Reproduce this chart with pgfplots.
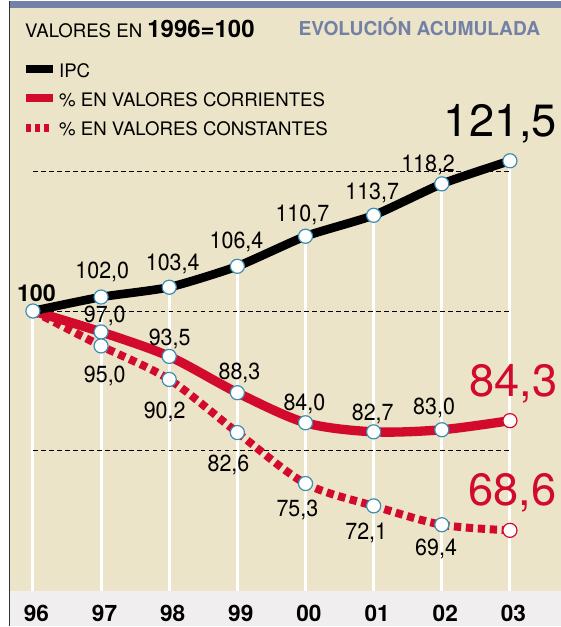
\documentclass[border=0pt]{standalone}
\usepackage{pgfplots}
\pgfplotsset{compat=1.18}
\usepackage{fontspec}
\setmainfont{TeX Gyre Heros}
\usepackage{graphicx}
\definecolor{bgbeige}{HTML}{ECE4C8}
\definecolor{slate}{HTML}{7381A6}
\definecolor{bandgray}{HTML}{F0EEEF}
\definecolor{cred}{HTML}{D20A2C}
\definecolor{cedge}{HTML}{3C8DB3}
\definecolor{border}{HTML}{333333}
% place a node at reference pixel coordinates (px, py)
\newcommand\lbl[4][]{\node[inner sep=0pt,#1] at ([xshift=#2*0.75pt-24.75pt,yshift=233.25pt-#3*0.75pt]axis cs:0,100) {#4};}
\newcommand\dl[3]{\lbl[anchor=base,font=\fontsize{17.5}{17.5}\selectfont]{#1}{#2}{\scalebox{0.92}[1]{#3}}}
\newcommand\bl[4]{\lbl[anchor=base,font=\fontsize{34}{34}\selectfont,text=#4]{#1}{#2}{#3}}
\newcommand\sw[3]{\draw[#1] ([xshift=-5.25pt,yshift=233.25pt-#2*0.75pt]axis cs:0,100) -- ++(#3pt,0pt);}
\begin{document}
\begin{tikzpicture}
\begin{axis}[
  set layers,
  x=51.2145pt, y=5.25pt,
  xmin=-0.48326, xmax=7.7468, ymin=54.857, ymax=144.4286,
  clip=false,
  axis line style={draw=none},
  tick style={draw=none},
  ytick=\empty,
  xtick={0,...,7},
  xticklabels={96,97,98,99,00,01,02,03},
  xticklabel style={anchor=base, inner sep=0pt, yshift=3.75pt, xshift=2.6pt, font=\fontsize{17}{17}\selectfont\bfseries},
]
\begin{pgfonlayer}{axis background}
\fill[white] (rel axis cs:0,0) rectangle (rel axis cs:1,1);
\fill[bgbeige] (axis cs:-0.3368,59.857) rectangle (axis cs:7.7468,144.4286);
\fill[slate] (axis cs:-0.3368,143.4286) rectangle (axis cs:7.7468,144.4286);
\fill[bandgray] (axis cs:-0.3368,54.857) rectangle (axis cs:7.7468,59.857);
\draw[border, line width=1pt] (axis cs:-0.3441,54.857) -- (axis cs:-0.3441,144.4286);
\draw[white, line width=2.3pt] (axis cs:0,100) -- (axis cs:0,59.857);
\draw[white, line width=2.3pt] (axis cs:1,102.0) -- (axis cs:1,59.857);
\draw[white, line width=2.3pt] (axis cs:2,103.4) -- (axis cs:2,59.857);
\draw[white, line width=2.3pt] (axis cs:3,106.4) -- (axis cs:3,59.857);
\draw[white, line width=2.3pt] (axis cs:4,110.7) -- (axis cs:4,59.857);
\draw[white, line width=2.3pt] (axis cs:5,113.7) -- (axis cs:5,59.857);
\draw[white, line width=2.3pt] (axis cs:6,118.2) -- (axis cs:6,59.857);
\draw[white, line width=2.3pt] (axis cs:7,121.5) -- (axis cs:7,59.857);
\draw[black, line width=0.55pt, dash pattern=on 3.6pt off 2.4pt] (axis cs:0,120) -- (axis cs:7,120);
\draw[black, line width=0.55pt, dash pattern=on 3.6pt off 2.4pt] (axis cs:0,100) -- (axis cs:7,100);
\draw[black, line width=0.55pt, dash pattern=on 3.6pt off 2.4pt] (axis cs:0,80) -- (axis cs:7,80);
\end{pgfonlayer}

% constant values (dotted)
\addplot[cred, line width=6pt, smooth, tension=0.5, dash pattern=on 5.5pt off 3.5pt] coordinates {
(0,100) (1,95.0) (2,90.2) (3,82.6) (4,75.3) (5,72.1) (6,69.4) (7,68.6)};
% current values
\addplot[cred, line width=7pt, smooth, tension=0.5] coordinates {
(0,100) (1,97.0) (2,93.5) (3,88.3) (4,84.0) (5,82.7) (6,83.0) (7,84.3)};
% IPC
\addplot[black, line width=6.5pt, smooth, tension=0.35] coordinates {
(0,100) (1,102.0) (2,103.4) (3,106.4) (4,110.7) (5,113.7) (6,118.2) (7,121.5)};

% markers
\addplot[only marks, mark=*, mark size=5.3pt, mark options={fill=white, draw=cedge, line width=0.9pt}] coordinates {
(0,100) (1,102.0) (2,103.4) (3,106.4) (4,110.7) (5,113.7) (6,118.2) (7,121.5)
(1,97.0) (2,93.5) (3,88.3) (4,84.0) (5,82.7) (6,83.0)
(1,95.0) (2,90.2) (3,82.6) (4,75.3) (5,72.1) (6,69.4)};
\addplot[only marks, mark=*, mark size=5.3pt, mark options={fill=white, draw=cred, line width=0.9pt}] coordinates {
(7,84.3) (7,68.6)};

% title
\lbl[anchor=base west]{25}{37}{\fontsize{14}{14}\selectfont VALORES EN {\fontsize{18}{18}\selectfont\bfseries 1996=100}}
\lbl[anchor=base west, text=slate, font=\fontsize{14.4}{14.4}\selectfont\bfseries]{299}{35}{EVOLUCIÓN ACUMULADA}
% legend
\sw{black, line width=6pt}{68.5}{20.25}
\sw{cred, line width=6pt}{97.5}{20.25}
\sw{cred, line width=6pt, dash pattern=on 3.75pt off 3pt}{127.3}{18}
\lbl[anchor=base west, font=\fontsize{14}{14}\selectfont]{59}{77}{IPC}
\lbl[anchor=base west, font=\fontsize{14}{14}\selectfont]{59}{106}{\% EN VALORES CORRIENTES}
\lbl[anchor=base west, font=\fontsize{14}{14}\selectfont]{59}{135}{\% EN VALORES CONSTANTES}

% IPC labels
\lbl[anchor=base, font=\fontsize{17.5}{17.5}\selectfont\bfseries]{36.5}{301}{100}
\dl{102.5}{278}{102,0}
\dl{173}{270}{103,4}
\dl{237}{248}{106,4}
\dl{303}{221}{110,7}
\dl{373}{199}{113,7}
\dl{429}{171}{118,2}
\bl{501.5}{136}{121,5}{black}
% current labels
\dl{105}{323}{97,0}
\dl{170}{346}{93,5}
\dl{240}{380}{88,3}
\dl{305}{411}{84,0}
\dl{373.5}{421}{82,7}
\dl{435}{415}{83,0}
\bl{514.5}{397}{84,3}{cred}
% constant labels
\dl{105}{383}{95,0}
\dl{165}{419}{90,2}
\dl{229}{472}{82,6}
\dl{298}{517}{75,3}
\dl{367}{540}{72,1}
\dl{437}{556}{69,4}
\bl{513.5}{506}{68,6}{cred}
\end{axis}
\end{tikzpicture}
\end{document}
